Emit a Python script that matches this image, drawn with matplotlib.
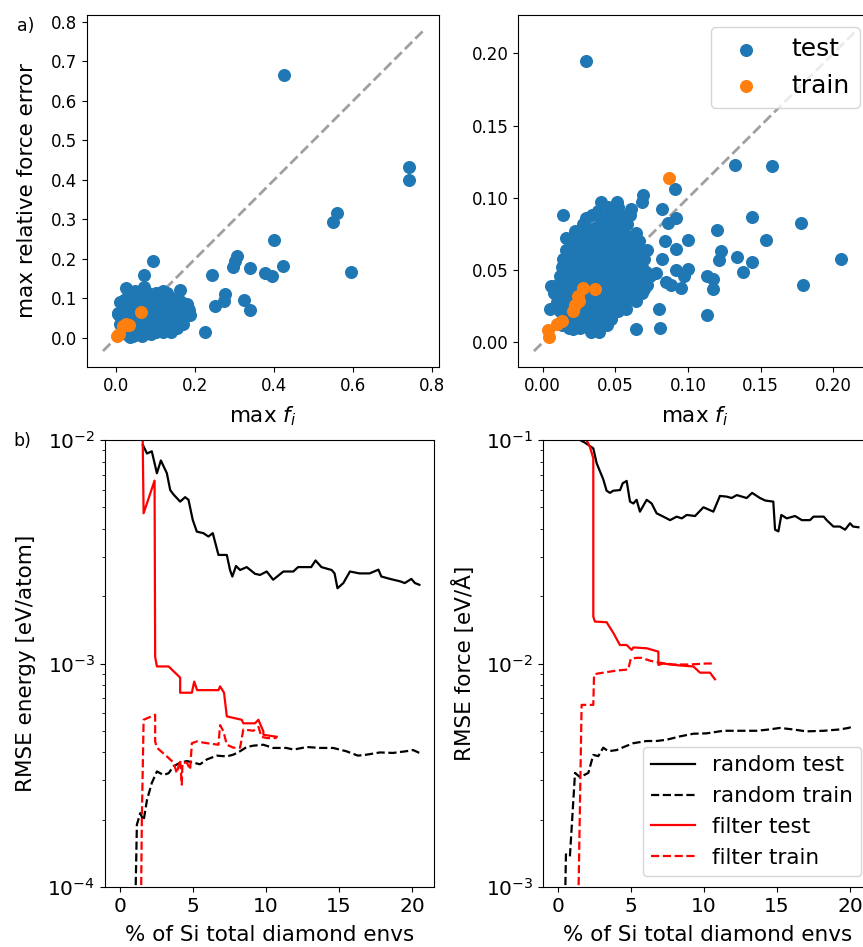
import numpy as np
import matplotlib
matplotlib.use("Agg")
import matplotlib.pyplot as plt

# ---------------- data: panel a (left) ----------------
test_left_pts = [
    (0.426, 0.666), (0.741, 0.432), (0.741, 0.401), (0.559, 0.317), (0.548, 0.293),
    (0.401, 0.247), (0.422, 0.183), (0.594, 0.166), (0.376, 0.165), (0.394, 0.158),
    (0.338, 0.177), (0.307, 0.207), (0.301, 0.194), (0.296, 0.179), (0.244, 0.160),
    (0.276, 0.112), (0.274, 0.093), (0.251, 0.082), (0.323, 0.097), (0.339, 0.072),
    (0.226, 0.014), (0.162, 0.122), (0.093, 0.196), (0.071, 0.160),
    (0.005, 0.060), (0.010, 0.090), (0.015, 0.045), (0.020, 0.075), (0.025, 0.127),
    (0.028, 0.100), (0.030, 0.020), (0.035, 0.060), (0.038, 0.115), (0.040, 0.040),
    (0.042, 0.005), (0.045, 0.085), (0.048, 0.120), (0.050, 0.030), (0.052, 0.065),
    (0.055, 0.100), (0.058, 0.015), (0.060, 0.050), (0.062, 0.110), (0.065, 0.080),
    (0.068, 0.035), (0.070, 0.130), (0.072, 0.095), (0.075, 0.060), (0.078, 0.020),
    (0.080, 0.110), (0.082, 0.045), (0.085, 0.075), (0.088, 0.010), (0.090, 0.100),
    (0.092, 0.055), (0.095, 0.030), (0.098, 0.085), (0.100, 0.065), (0.103, 0.045),
    (0.105, 0.105), (0.108, 0.080), (0.110, 0.025), (0.112, 0.060), (0.115, 0.095),
    (0.118, 0.040), (0.120, 0.115), (0.122, 0.070), (0.125, 0.050), (0.128, 0.090),
    (0.130, 0.080), (0.133, 0.030), (0.135, 0.065), (0.138, 0.100), (0.140, 0.045),
    (0.143, 0.080), (0.145, 0.055), (0.148, 0.035), (0.150, 0.090), (0.153, 0.060),
    (0.155, 0.025), (0.158, 0.075), (0.160, 0.045), (0.163, 0.088), (0.165, 0.065),
    (0.168, 0.040), (0.170, 0.089), (0.172, 0.080), (0.175, 0.070), (0.178, 0.065),
    (0.180, 0.085), (0.183, 0.075), (0.187, 0.059), (0.185, 0.070), (0.154, 0.029),
    (0.137, 0.051), (0.119, 0.118), (0.044, 0.008), (0.086, 0.013), (0.006, 0.063),
    (0.025, 0.010), (0.035, 0.002), (0.065, 0.005), (0.075, 0.012), (0.018, 0.030),
    (0.02, 0.015), (0.04, 0.015), (0.06, 0.015), (0.08, 0.015), (0.10, 0.015),
    (0.12, 0.015), (0.14, 0.015),
    (0.01, 0.035), (0.03, 0.035), (0.05, 0.035), (0.07, 0.035), (0.09, 0.035),
    (0.11, 0.035), (0.13, 0.035), (0.15, 0.035), (0.17, 0.035),
    (0.01, 0.055), (0.03, 0.055), (0.05, 0.055), (0.07, 0.055), (0.09, 0.055),
    (0.11, 0.055), (0.13, 0.055), (0.15, 0.055), (0.17, 0.055),
    (0.02, 0.075), (0.04, 0.075), (0.06, 0.075), (0.08, 0.075), (0.10, 0.075),
    (0.12, 0.075), (0.14, 0.075), (0.16, 0.075), (0.18, 0.075),
    (0.02, 0.095), (0.04, 0.095), (0.06, 0.095), (0.08, 0.095), (0.10, 0.095),
    (0.12, 0.095), (0.14, 0.095), (0.16, 0.095),
    (0.04, 0.115), (0.06, 0.115), (0.08, 0.115), (0.10, 0.115), (0.13, 0.115),
]
train_left_pts = [
    (0.003, 0.004), (0.007, 0.009), (0.018, 0.030), (0.024, 0.035), (0.032, 0.033),
    (0.063, 0.066),
]
diag_left = [-0.033, 0.777]

# ---------------- data: panel a (right) ----------------
test_right_pts = [
    (0.030, 0.195), (0.132, 0.123), (0.158, 0.122), (0.091, 0.106), (0.069, 0.102),
    (0.068, 0.097), (0.082, 0.092), (0.092, 0.086), (0.086, 0.083), (0.144, 0.087),
    (0.178, 0.083), (0.120, 0.078), (0.154, 0.071), (0.100, 0.071), (0.084, 0.070),
    (0.092, 0.065), (0.123, 0.063), (0.121, 0.057), (0.134, 0.059), (0.144, 0.056),
    (0.138, 0.049), (0.205, 0.058), (0.100, 0.051), (0.092, 0.050), (0.097, 0.046),
    (0.113, 0.046), (0.117, 0.044), (0.117, 0.037), (0.179, 0.040), (0.113, 0.019),
    (0.082, 0.058), (0.080, 0.023), (0.081, 0.010), (0.064, 0.009), (0.095, 0.038),
    (0.088, 0.040), (0.085, 0.042), (0.078, 0.048), (0.014, 0.088), (0.030, 0.086),
    (0.040, 0.097), (0.051, 0.097), (0.038, 0.091), (0.061, 0.092), (0.016, 0.072),
    (0.022, 0.077), (0.006, 0.039), (0.005, 0.023), (0.013, 0.012), (0.021, 0.009),
    (0.033, 0.007), (0.039, 0.007), (0.044, 0.012), (0.057, 0.023), (0.064, 0.029),
    (0.046, 0.022), (0.037, 0.015), (0.025, 0.011),
    (0.018, 0.010), (0.026, 0.010), (0.034, 0.010),
    (0.014, 0.016), (0.022, 0.016), (0.030, 0.016), (0.040, 0.016), (0.047, 0.016),
    (0.012, 0.022), (0.020, 0.022), (0.028, 0.022), (0.036, 0.022), (0.043, 0.022), (0.052, 0.022),
    (0.010, 0.028), (0.017, 0.028), (0.025, 0.028), (0.033, 0.028), (0.041, 0.028),
    (0.049, 0.028), (0.056, 0.028),
    (0.008, 0.034), (0.015, 0.034), (0.022, 0.034), (0.030, 0.034), (0.038, 0.034),
    (0.046, 0.034), (0.053, 0.034), (0.060, 0.034), (0.068, 0.034),
    (0.010, 0.040), (0.017, 0.040), (0.025, 0.040), (0.033, 0.040), (0.041, 0.040),
    (0.049, 0.040), (0.057, 0.040), (0.064, 0.040), (0.072, 0.040),
    (0.012, 0.046), (0.019, 0.046), (0.027, 0.046), (0.035, 0.046), (0.043, 0.046),
    (0.051, 0.046), (0.059, 0.046), (0.066, 0.046), (0.074, 0.046),
    (0.013, 0.052), (0.021, 0.052), (0.029, 0.052), (0.037, 0.052), (0.045, 0.052),
    (0.053, 0.052), (0.061, 0.052), (0.068, 0.052),
    (0.014, 0.058), (0.022, 0.058), (0.030, 0.058), (0.038, 0.058), (0.046, 0.058),
    (0.054, 0.058), (0.062, 0.058), (0.070, 0.058),
    (0.016, 0.064), (0.024, 0.064), (0.032, 0.064), (0.040, 0.064), (0.048, 0.064),
    (0.056, 0.064), (0.064, 0.064), (0.072, 0.064),
    (0.019, 0.070), (0.027, 0.070), (0.035, 0.070), (0.043, 0.070), (0.051, 0.070),
    (0.059, 0.070), (0.066, 0.070),
    (0.022, 0.076), (0.030, 0.076), (0.040, 0.076), (0.048, 0.076), (0.056, 0.076), (0.064, 0.076),
    (0.028, 0.082), (0.042, 0.082), (0.050, 0.082), (0.058, 0.082),
    (0.034, 0.088), (0.046, 0.088), (0.054, 0.088), (0.060, 0.088),
    (0.045, 0.094), (0.052, 0.094),
    (0.022, 0.013), (0.030, 0.013), (0.038, 0.013),
    (0.018, 0.019), (0.026, 0.019), (0.034, 0.019), (0.044, 0.019),
    (0.014, 0.025), (0.021, 0.025), (0.029, 0.025), (0.037, 0.025), (0.045, 0.025), (0.052, 0.025),
    (0.013, 0.031), (0.021, 0.031), (0.029, 0.031), (0.037, 0.031), (0.045, 0.031),
    (0.053, 0.031), (0.060, 0.031),
    (0.012, 0.037), (0.019, 0.037), (0.026, 0.037), (0.034, 0.037), (0.042, 0.037),
    (0.050, 0.037), (0.057, 0.037), (0.064, 0.037), (0.070, 0.037),
    (0.014, 0.043), (0.021, 0.043), (0.029, 0.043), (0.037, 0.043), (0.045, 0.043),
    (0.053, 0.043), (0.061, 0.043), (0.068, 0.043),
    (0.016, 0.049), (0.024, 0.049), (0.032, 0.049), (0.040, 0.049), (0.048, 0.049),
    (0.056, 0.049), (0.064, 0.049), (0.071, 0.049),
    (0.018, 0.055), (0.026, 0.055), (0.034, 0.055), (0.042, 0.055), (0.050, 0.055),
    (0.058, 0.055), (0.066, 0.055),
    (0.020, 0.061), (0.028, 0.061), (0.036, 0.061), (0.044, 0.061), (0.052, 0.061),
    (0.060, 0.061), (0.068, 0.061),
    (0.022, 0.067), (0.030, 0.067), (0.038, 0.067), (0.046, 0.067), (0.054, 0.067), (0.062, 0.067),
    (0.025, 0.073), (0.034, 0.073), (0.044, 0.073), (0.052, 0.073), (0.060, 0.073),
    (0.035, 0.079), (0.046, 0.079), (0.054, 0.079),
    (0.040, 0.085), (0.050, 0.085), (0.057, 0.085),
]
train_right_pts = [
    (0.004, 0.004), (0.0035, 0.0085), (0.0097, 0.013), (0.013, 0.015), (0.021, 0.022),
    (0.022, 0.026), (0.024, 0.032), (0.025, 0.029), (0.028, 0.038), (0.036, 0.037),
    (0.087, 0.114),
]
diag_right = [-0.006, 0.2155]

# ---------------- data: panel b (energy) ----------------
e_rand_test_x = [1.59, 1.87, 2.2, 2.55, 2.82, 3.23, 3.46, 3.69, 4.14, 4.48, 4.71, 5.0, 5.28,
                 5.73, 6.07, 6.37, 6.76, 7.33, 7.55, 7.71, 7.96, 8.24, 8.69, 9.26, 9.6, 10.06,
                 10.5, 11.2, 11.88, 12.2, 13.1, 13.4, 13.8, 14.5, 14.7, 14.9, 15.3, 15.75,
                 16.4, 17.1, 17.7, 17.9, 18.5, 19.2, 19.5, 19.95, 20.2, 20.5]
e_rand_test_y = [9.5e-3, 8.7e-3, 8.9e-3, 7.1e-3, 8.1e-3, 7.1e-3, 5.97e-3, 5.7e-3, 5.3e-3,
                 5.55e-3, 5.4e-3, 4.39e-3, 3.89e-3, 3.83e-3, 3.7e-3, 3.83e-3, 3.06e-3,
                 3.06e-3, 2.62e-3, 2.45e-3, 2.73e-3, 2.62e-3, 2.7e-3, 2.52e-3, 2.49e-3,
                 2.58e-3, 2.37e-3, 2.58e-3, 2.58e-3, 2.7e-3, 2.7e-3, 2.89e-3, 2.7e-3,
                 2.62e-3, 2.53e-3, 2.17e-3, 2.29e-3, 2.58e-3, 2.53e-3, 2.53e-3, 2.63e-3,
                 2.45e-3, 2.39e-3, 2.33e-3, 2.29e-3, 2.39e-3, 2.29e-3, 2.25e-3]
e_rand_train_x = [1.07, 1.18, 1.41, 1.64, 1.87, 2.2, 2.55, 3.0, 3.35, 3.69, 4.14, 4.6, 5.05,
                  5.5, 5.96, 6.64, 7.33, 7.78, 8.24, 8.69, 9.15, 9.83, 10.5, 11.4, 11.9,
                  12.8, 13.7, 14.6, 15.5, 16.3, 16.9, 17.8, 18.7, 19.6, 20.07, 20.5]
e_rand_train_y = [8.0e-5, 1.9e-4, 2.14e-4, 1.98e-4, 2.45e-4, 2.92e-4, 3.29e-4, 3.17e-4,
                  3.23e-4, 3.47e-4, 3.6e-4, 3.66e-4, 3.6e-4, 3.54e-4, 3.72e-4, 3.87e-4,
                  3.84e-4, 3.91e-4, 4.05e-4, 4.23e-4, 4.29e-4, 4.33e-4, 4.19e-4, 4.19e-4,
                  4.12e-4, 4.23e-4, 4.19e-4, 4.19e-4, 4.05e-4, 3.87e-4, 3.91e-4, 4.0e-4,
                  3.98e-4, 4.05e-4, 4.1e-4, 3.98e-4]
e_filt_test_x = [1.57, 1.64, 2.39, 2.43, 2.55, 3.35, 4.14, 4.14, 4.94, 5.1, 5.3, 6.76, 6.87,
                 7.14, 7.33, 8.35, 8.46, 9.26, 9.49, 9.83, 9.83, 10.74]
e_filt_test_y = [1.1e-2, 4.7e-3, 6.58e-3, 1.07e-3, 9.7e-4, 9.7e-4, 8.65e-4, 7.4e-4, 7.4e-4,
                 8.3e-4, 7.6e-4, 7.6e-4, 7.9e-4, 7.4e-4, 5.8e-4, 5.6e-4, 5.4e-4, 5.4e-4,
                 5.6e-4, 4.97e-4, 4.8e-4, 4.7e-4]
e_filt_train_x = [1.46, 1.52, 1.64, 2.43, 2.43, 2.55, 3.23, 3.69, 3.91, 4.14, 4.25, 4.3,
                  4.6, 4.82, 4.94, 5.28, 5.96, 6.76, 6.87, 7.1, 7.33, 7.78, 8.24, 8.46,
                  9.15, 9.5, 9.7, 10.06, 10.74]
e_filt_train_y = [8.0e-5, 2.0e-4, 5.6e-4, 5.9e-4, 4.48e-4, 4.2e-4, 3.84e-4, 3.6e-4, 3.23e-4,
                  3.7e-4, 2.87e-4, 3.6e-4, 3.6e-4, 3.35e-4, 4.4e-4, 4.48e-4, 4.4e-4,
                  4.33e-4, 5.3e-4, 4.97e-4, 4.33e-4, 4.2e-4, 4.2e-4, 5.07e-4, 5.0e-4,
                  5.2e-4, 4.7e-4, 4.64e-4, 4.64e-4]

# ---------------- data: panel b (force) ----------------
f_rand_test_x = [1.53, 1.87, 2.44, 2.67, 3.12, 3.35, 3.58, 3.8, 4.27, 4.45, 4.72, 4.95, 5.18,
                 5.4, 5.63, 6.09, 6.43, 6.77, 7.23, 7.69, 8.14, 8.49, 8.83, 9.4, 9.97,
                 10.65, 11.1, 11.57, 11.9, 12.25, 12.93, 13.3, 13.84, 14.2, 14.75, 14.87,
                 15.1, 15.3, 15.67, 16.24, 16.7, 17.26, 17.5, 18.2, 18.4, 18.86, 19.3,
                 19.66, 20.0, 20.2, 20.57]
f_rand_test_y = [0.1, 0.0973, 0.0918, 0.0787, 0.0667, 0.0593, 0.058, 0.0593, 0.0597, 0.064,
                 0.0656, 0.053, 0.052, 0.054, 0.0478, 0.054, 0.052, 0.047, 0.0454, 0.0438,
                 0.0454, 0.0446, 0.0462, 0.0457, 0.05, 0.0478, 0.0562, 0.0558, 0.055,
                 0.0567, 0.055, 0.058, 0.055, 0.0536, 0.053, 0.0397, 0.039, 0.0462, 0.0446,
                 0.0457, 0.0438, 0.0438, 0.0454, 0.0454, 0.0438, 0.041, 0.041, 0.0397,
                 0.0424, 0.041, 0.0407]
f_rand_train_x = [0.5, 0.57, 0.84, 1.19, 1.53, 2.1, 2.44, 2.78, 3.12, 3.47, 4.04, 4.6, 5.18,
                  6.09, 6.77, 7.46, 8.37, 9.28, 10.2, 11.33, 12.47, 13.6, 14.5, 15.2, 16.1,
                  17.0, 18.2, 19.3, 19.9, 20.2]
f_rand_train_y = [8.0e-4, 1.4e-3, 1.37e-3, 3.24e-3, 3.1e-3, 3.24e-3, 3.9e-3, 3.85e-3,
                  4.2e-3, 4.05e-3, 4.1e-3, 4.25e-3, 4.4e-3, 4.5e-3, 4.5e-3, 4.56e-3,
                  4.72e-3, 4.85e-3, 4.87e-3, 5.0e-3, 5.0e-3, 5.0e-3, 5.07e-3, 5.15e-3,
                  5.07e-3, 4.97e-3, 5.0e-3, 5.07e-3, 5.15e-3, 5.23e-3]
f_filt_test_x = [1.98, 2.2, 2.44, 2.44, 2.55, 3.35, 3.81, 4.26, 4.72, 5.06, 5.18, 6.09, 6.89,
                 6.89, 7.23, 7.69, 8.37, 9.28, 9.74, 10.42, 10.76]
f_filt_test_y = [0.1, 0.0934, 0.0828, 0.0162, 0.0154, 0.0153, 0.0137, 0.0121, 0.0121,
                 0.0115, 0.0118, 0.0117, 0.0113, 0.00986, 0.01, 0.0099, 0.0098, 0.0097,
                 0.0091, 0.0091, 0.0085]
f_filt_train_x = [1.41, 1.64, 2.44, 2.49, 2.67, 4.04, 4.83, 5.0, 5.4, 5.75, 6.3, 6.89, 7.9,
                  9.05, 10.2, 10.76]
f_filt_train_y = [8.0e-4, 6.53e-3, 6.53e-3, 8.9e-3, 9.0e-3, 9.3e-3, 9.4e-3, 0.0105, 0.0106,
                  0.0106, 0.0103, 0.0101, 0.0099, 0.0099, 0.01, 0.01]

# ---------------- figure ----------------
W, H = 863, 947
fig = plt.figure(figsize=(W / 100, H / 100), dpi=100)

def ax_px(l, r, t, b):
    return fig.add_axes([l / W, (H - b) / H, (r - l) / W, (b - t) / H])

TICK_TOP = 12
TICK_BOT = 14.5
LAB = 15.5
S = 70

ax1 = ax_px(87, 439, 15, 367)
ax2 = ax_px(518, 872, 15, 367)
ax3 = ax_px(105, 434, 440, 887)
ax4 = ax_px(543, 872, 440, 887)

tl = np.array(test_left_pts); trl = np.array(train_left_pts)
tr = np.array(test_right_pts); trr = np.array(train_right_pts)

ax1.plot(diag_left, diag_left, ls="--", color="#a0a0a0", lw=2, zorder=0.5)
ax1.scatter(tl[:, 0], tl[:, 1], s=S, color="#1f77b4", zorder=2)
ax1.scatter(trl[:, 0], trl[:, 1], s=S, color="#ff7f0e", zorder=2.1)
ax1.set_xlim(-0.0735, 0.8175)
ax1.set_ylim(-0.0735, 0.8175)
ax1.set_xticks([0.0, 0.2, 0.4, 0.6, 0.8])
ax1.set_yticks([0.0, 0.1, 0.2, 0.3, 0.4, 0.5, 0.6, 0.7, 0.8])
ax1.set_xlabel(r"max $f_i$", fontsize=LAB, labelpad=7)
ax1.set_ylabel("max relative force error", fontsize=LAB, labelpad=10)

ax2.plot(diag_right, diag_right, ls="--", color="#a0a0a0", lw=2, zorder=0.5)
ax2.scatter(tr[:, 0], tr[:, 1], s=S, color="#1f77b4", zorder=2, label="test")
ax2.scatter(trr[:, 0], trr[:, 1], s=S, color="#ff7f0e", zorder=2.1, label="train")
ax2.set_xlim(-0.017, 0.2266)
ax2.set_ylim(-0.017, 0.2266)
ax2.set_xticks([0.0, 0.05, 0.10, 0.15, 0.20])
ax2.set_yticks([0.0, 0.05, 0.10, 0.15, 0.20])
ax2.set_xticklabels(["0.00", "0.05", "0.10", "0.15", "0.20"])
ax2.set_yticklabels(["0.00", "0.05", "0.10", "0.15", "0.20"])
ax2.set_xlabel(r"max $f_i$", fontsize=LAB, labelpad=7)
ax2.legend(loc="upper right", fontsize=18)

for ax in (ax1, ax2):
    ax.tick_params(labelsize=TICK_TOP)

ax3.plot(e_rand_test_x, e_rand_test_y, color="black", lw=1.6)
ax3.plot(e_rand_train_x, e_rand_train_y, color="black", lw=1.6, ls="--")
ax3.plot(e_filt_test_x, e_filt_test_y, color="red", lw=1.6)
ax3.plot(e_filt_train_x, e_filt_train_y, color="red", lw=1.6, ls="--")
ax3.set_yscale("log")
ax3.set_ylim(1e-4, 1e-2)
ax3.set_xlim(-1, 21.5)
ax3.set_xticks([0, 5, 10, 15, 20])
ax3.set_ylabel("RMSE energy [eV/atom]", fontsize=LAB, labelpad=8)
ax3.set_xlabel("% of Si total diamond envs", fontsize=LAB, labelpad=7)

ax4.plot(f_rand_test_x, f_rand_test_y, color="black", lw=1.6, label="random test")
ax4.plot(f_rand_train_x, f_rand_train_y, color="black", lw=1.6, ls="--", label="random train")
ax4.plot(f_filt_test_x, f_filt_test_y, color="red", lw=1.6, label="filter test")
ax4.plot(f_filt_train_x, f_filt_train_y, color="red", lw=1.6, ls="--", label="filter train")
ax4.set_yscale("log")
ax4.set_ylim(1e-3, 1e-1)
ax4.set_xlim(-1, 21.5)
ax4.set_xticks([0, 5, 10, 15, 20])
ax4.set_ylabel("RMSE force [eV/Å]", fontsize=LAB, labelpad=8)
ax4.set_xlabel("% of Si total diamond envs", fontsize=LAB, labelpad=7)
ax4.legend(loc="lower right", fontsize=15.5)

for ax in (ax3, ax4):
    ax.tick_params(labelsize=TICK_BOT)

fig.text(17 / W, 1 - 26 / H, "a)", fontsize=12.5, va="center", ha="left")
fig.text(13 / W, 1 - 441 / H, "b)", fontsize=12.5, va="center", ha="left")

fig.savefig("out.png", dpi=100)
